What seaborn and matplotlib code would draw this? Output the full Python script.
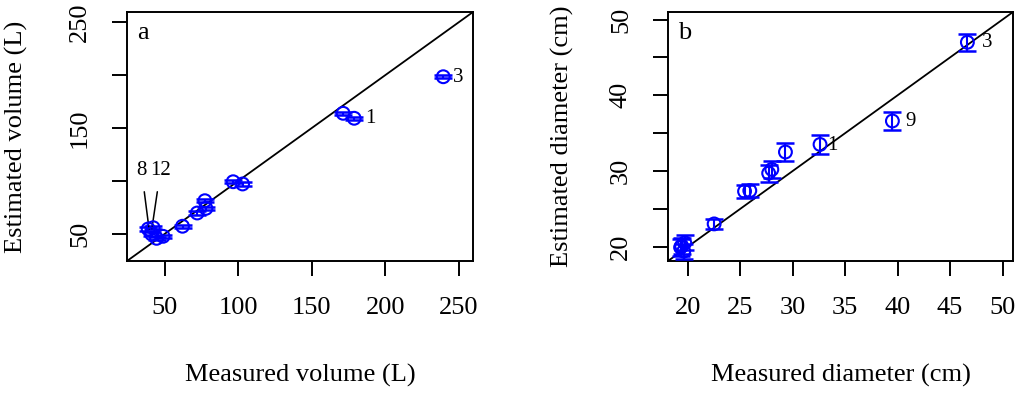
import numpy as np
import seaborn as sns
import matplotlib.pyplot as plt

# panel a: volume (L)
vol_measured = [239.3, 171.3, 178.8, 96.6, 103.0, 77.4, 78.1, 72.2, 62.2, 38.9, 42.3, 41.2, 44.6, 49.0]
vol_estimated = [198.4, 163.9, 159.2, 99.3, 97.2, 81.4, 74.2, 69.8, 57.3, 54.7, 55.9, 50.0, 45.9, 47.8]
vol_err = [1.6] * len(vol_measured)

# panel b: diameter (cm)
dia_measured = [46.65, 39.5, 32.6, 29.3, 27.7, 28.0, 25.4, 25.9, 22.5, 19.3, 19.7, 19.6, 19.4]
dia_estimated = [47.0, 36.6, 33.5, 32.5, 29.7, 30.2, 27.3, 27.4, 23.0, 19.9, 20.5, 19.4, 20.1]
dia_err = [1.14, 1.14, 1.25, 1.16, 1.15, 1.15, 0.9, 0.9, 0.7, 1.1, 1.0, 1.0, 1.1]

sns.set_style("ticks")
plt.rcParams['font.family'] = ['Liberation Serif', 'DejaVu Serif']
plt.rcParams['text.color'] = 'black'
plt.rcParams['axes.labelcolor'] = 'black'

fig = plt.figure(figsize=(10.24, 3.93), dpi=100)
ax1 = fig.add_axes([127/1024, 1-261/393, 346/1024, 249/393])
ax2 = fig.add_axes([668/1024, 1-261/393, 345/1024, 249/393])

blue = '#0000ff'
fs = 19

def draw(ax, x, y, err, lim):
    ax.errorbar(x, y, yerr=err, fmt='none', ecolor=blue, elinewidth=1.5,
                capsize=6.5, capthick=1.8, zorder=3)
    sns.scatterplot(x=x, y=y, ax=ax, marker='o', s=85, facecolor='none',
                    edgecolor=blue, linewidth=1.5, zorder=4)
    ax.axline((lim[0], lim[0]), slope=1, color='black', lw=1.3, zorder=2)
    ax.set_xlim(lim)
    ax.set_ylim(lim)
    for s in ax.spines.values():
        s.set_visible(True)
        s.set_linewidth(1.4)
        s.set_color('black')
    ax.tick_params(direction='out', length=11, width=1.4, labelsize=fs, pad=15,
                   color='black', labelcolor='black')

# panel a
draw(ax1, vol_measured, vol_estimated, vol_err, (24.5, 259.5))
ax1.set_xticks([50, 100, 150, 200, 250])
ax1.set_yticks([50, 100, 150, 200, 250])
ax1.set_yticklabels(['50', '', '150', '', '250'], rotation=90, va='center')
ax1.text(0.03, 0.96, 'a', transform=ax1.transAxes, fontsize=fs, va='top', ha='left')
ax1.text(246.0, 198.0, '3', fontsize=15, va='center', ha='left')
ax1.text(186.0, 158.8, '1', fontsize=15, va='center', ha='left')
ax1.annotate('8', xy=(39.5, 54.5), xytext=(34.4, 109.7), fontsize=15,
             ha='center', va='center', arrowprops=dict(arrowstyle='-', lw=1.1, color='black', shrinkA=6, shrinkB=0))
ax1.annotate('12', xy=(41.4, 55.0), xytext=(47.2, 109.7), fontsize=15,
             ha='center', va='center', arrowprops=dict(arrowstyle='-', lw=1.1, color='black', shrinkA=6, shrinkB=0))
ax1.set_xlabel('Measured volume (L)', fontsize=fs)
ax1.set_ylabel('Estimated volume (L)', fontsize=fs)
ax1.xaxis.set_label_coords(0.5, (261-375)/249)
ax1.xaxis.label.set_va('center')
ax1.yaxis.set_label_coords((16-127)/346, 0.5)
ax1.yaxis.label.set_va('center')

# panel b
draw(ax2, dia_measured, dia_estimated, dia_err, (18.1, 51.0))
ax2.set_xticks([20, 25, 30, 35, 40, 45, 50])
ax2.set_yticks([20, 25, 30, 35, 40, 45, 50])
ax2.set_yticklabels(['20', '', '30', '', '40', '', '50'], rotation=90, va='center')
ax2.text(0.03, 0.96, 'b', transform=ax2.transAxes, fontsize=fs, va='top', ha='left')
ax2.text(48.0, 47.0, '3', fontsize=15, va='center', ha='left')
ax2.text(40.7, 36.5, '9', fontsize=15, va='center', ha='left')
ax2.text(33.3, 33.3, '1', fontsize=15, va='center', ha='left')
ax2.set_xlabel('Measured diameter (cm)', fontsize=fs)
ax2.set_ylabel('Estimated diameter (cm)', fontsize=fs)
ax2.xaxis.set_label_coords(0.5, (261-375)/249)
ax2.xaxis.label.set_va('center')
ax2.yaxis.set_label_coords((562-668)/345, 0.5)
ax2.yaxis.label.set_va('center')

fig.savefig('out.png', dpi=100, facecolor='white')
